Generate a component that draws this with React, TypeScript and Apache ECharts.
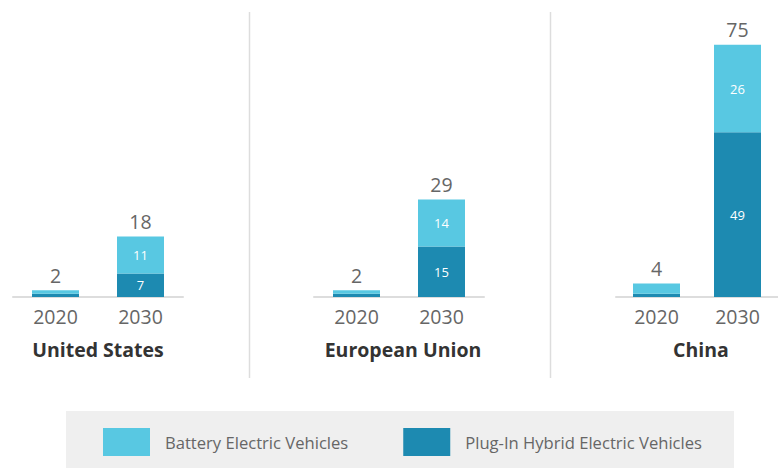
import React, { useEffect, useRef } from "react";
import * as echarts from "echarts";

const years = ["2020", "2030"];
const regions = ["United States", "European Union", "China"];
const phev = [
  [1, 7],
  [1, 15],
  [1, 49],
];
const bev = [
  [1, 11],
  [1, 14],
  [3, 26],
];
const totals = [
  [2, 18],
  [2, 29],
  [4, 75],
];
const legendNames = ["Battery Electric Vehicles", "Plug-In Hybrid Electric Vehicles"];

const LIGHT = "#58C8E2";
const DARK = "#1D8AB1";
const FONT = "'Open Sans', 'Noto Sans', sans-serif";

export default function App() {
  const ref = useRef<HTMLDivElement>(null);
  useEffect(() => {
    document.body.style.margin = "0";
    if (!ref.current) return;
    const chart = echarts.init(ref.current, undefined, { renderer: "svg" });
    const lefts = [13, 314, 616];
    const gridW = 170;
    const grids = lefts.map((l) => ({ left: l, width: gridW, top: 28, height: 269 }));
    const xAxes = lefts.map((_, i) => ({
      type: "category",
      gridIndex: i,
      data: years,
      axisTick: { show: false },
      axisLine: { lineStyle: { color: "#DDDDDD", width: 2 } },
      axisLabel: { fontSize: 19.5, color: "#666", margin: 9, fontFamily: FONT },
    }));
    const yAxes = lefts.map((_, i) => ({
      type: "value",
      gridIndex: i,
      min: 0,
      max: 80,
      show: false,
      splitLine: { show: false },
    }));
    const series: any[] = [];
    regions.forEach((_, i) => {
      series.push({
        type: "bar",
        name: legendNames[1],
        xAxisIndex: i,
        yAxisIndex: i,
        stack: "s" + i,
        barWidth: 47,
        itemStyle: { color: DARK },
        data: phev[i].map((v, j) => ({
          value: v,
          label: { show: j === 1 },
        })),
        label: {
          position: "inside",
          color: "#fff",
          fontSize: 13,
          fontFamily: FONT,
        },
      });
      series.push({
        type: "bar",
        name: legendNames[0],
        xAxisIndex: i,
        yAxisIndex: i,
        stack: "s" + i,
        barWidth: 47,
        itemStyle: { color: LIGHT },
        data: bev[i].map((v, j) => ({
          value: v,
          label: { show: j === 1 },
        })),
        label: {
          position: "inside",
          color: "#fff",
          fontSize: 13,
          fontFamily: FONT,
        },
      });
      series.push({
        type: "bar",
        name: "total" + i,
        xAxisIndex: i,
        yAxisIndex: i,
        barWidth: 47,
        barGap: "-100%",
        z: 1,
        itemStyle: { color: "rgba(0,0,0,0)" },
        data: totals[i],
        label: {
          show: true,
          position: "top",
          distance: 5,
          color: "#666",
          fontSize: 19.5,
          fontFamily: FONT,
        },
        silent: true,
      });
    });
    const titleX = [98, 403, 701];
    chart.setOption({
      animation: false,
      grid: grids,
      xAxis: xAxes,
      yAxis: yAxes,
      series,
      legend: {
        data: legendNames,
        left: 103,
        top: 428,
        padding: 0,
        itemWidth: 47,
        itemHeight: 28,
        itemGap: 55,
        icon: "rect",
        selectedMode: false,
        textStyle: { fontSize: 16.6, color: "#666", fontFamily: FONT, padding: [0, 0, 0, 10] },
      },
      graphic: [
        {
          type: "rect",
          z: -10,
          shape: { x: 66, y: 411, width: 668, height: 60 },
          style: { fill: "#EFEFEF" },
        },
        {
          type: "line",
          shape: { x1: 249.5, y1: 12, x2: 249.5, y2: 378 },
          style: { stroke: "#DDDDDD", lineWidth: 1.5 },
        },
        {
          type: "line",
          shape: { x1: 550.5, y1: 12, x2: 550.5, y2: 378 },
          style: { stroke: "#DDDDDD", lineWidth: 1.5 },
        },
        ...regions.map((r, i) => ({
          type: "text",
          x: titleX[i],
          y: 349,
          style: {
            text: r,
            fill: "#333",
            fontSize: 19.5,
            fontWeight: "bold",
            fontFamily: FONT,
            align: "center",
            verticalAlign: "middle",
          },
        })),
      ],
    });
    return () => chart.dispose();
  }, []);
  return <div ref={ref} style={{ width: 778, height: 468 }} />;
}
